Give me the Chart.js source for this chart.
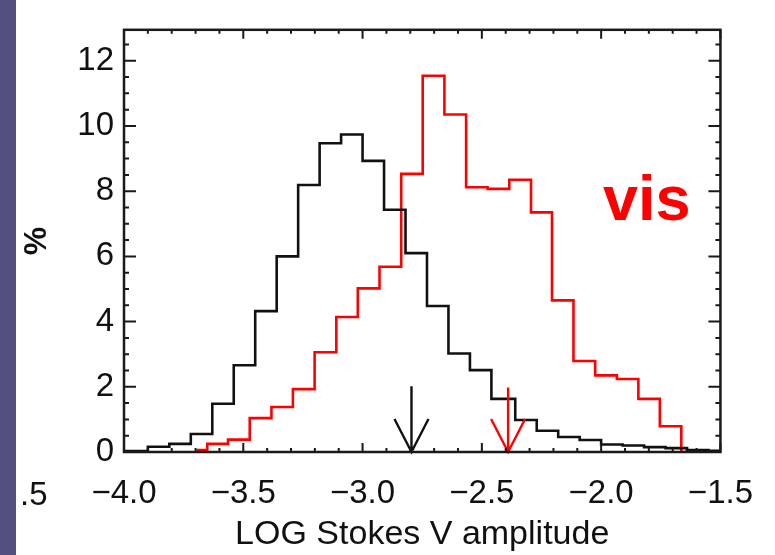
<!DOCTYPE html>
<html><head><meta charset="utf-8">
<script src="https://cdn.jsdelivr.net/npm/chart.js@4/dist/chart.umd.min.js"></script>
<style>html,body{margin:0;padding:0;background:#fff;}#wrap{width:775px;height:555px;position:relative;}</style>
</head><body><div id="wrap"><canvas id="c" width="775" height="555"></canvas></div>
<script>
// Black histogram: bin edges (LOG Stokes V amplitude) and percentages per bin
const blackEdges = [-4.00,-3.90,-3.81,-3.72,-3.63,-3.54,-3.45,-3.36,-3.27,-3.18,-3.09,-3.00,-2.91,-2.82,-2.73,-2.64,-2.55,-2.46,-2.36,-2.27,-2.18,-2.09,-2.00,-1.91,-1.82,-1.73,-1.64,-1.55,-1.50];
const blackPct   = [0.03,0.16,0.25,0.55,1.48,2.66,4.32,6.00,8.19,9.47,9.74,8.93,7.43,6.10,4.48,3.02,2.51,1.63,0.98,0.65,0.46,0.37,0.23,0.20,0.15,0.12,0.06,0.04];
// Red ("vis") histogram
const redEdges = [-3.696,-3.651,-3.564,-3.473,-3.382,-3.292,-3.201,-3.110,-3.020,-2.929,-2.838,-2.748,-2.657,-2.566,-2.476,-2.385,-2.294,-2.206,-2.116,-2.025,-1.934,-1.844,-1.754,-1.664,-1.506];
const redPct   = [0.06,0.25,0.38,1.04,1.38,1.93,3.06,4.14,5.02,5.68,8.53,11.54,10.35,8.12,8.07,8.35,7.35,4.65,2.79,2.35,2.24,1.63,0.79,0.00];
// Arrows marking the characteristic values
const arrowX     = [-2.795, -2.390];
const arrowTop   = [2.02, 1.98];
const arrowColor = ['#111111', '#ff0000'];
// Axis ranges / tick labels
const xTickLabels = [-4.0,-3.5,-3.0,-2.5,-2.0,-1.5];
const yTickLabels = [0,2,4,6,8,10,12];
const seriesLabel = 'vis';

function toSteps(edges, pct){
  return edges.map((x,i)=>({x:x, y:pct[Math.min(i,pct.length-1)]}));
}
function fmtX(v){ return (v<0?'\u2212':'') + Math.abs(v).toFixed(1); }

const FONT = "'Liberation Sans', Arial, Helvetica, sans-serif";

const framePlugin = {
  id:'frame',
  beforeDraw(chart){
    const ctx = chart.ctx;
    ctx.save();
    ctx.fillStyle = '#ffffff';
    ctx.fillRect(0,0,chart.width,chart.height);
    ctx.fillStyle = '#52507d';
    ctx.fillRect(0,0,16,chart.height);
    ctx.restore();
  },
  afterDatasetsDraw(chart){
    const ctx = chart.ctx, a = chart.chartArea;
    const xs = chart.scales.x, ys = chart.scales.y;
    ctx.save();
    // arrows
    arrowX.forEach((ax,i)=>{
      const px = xs.getPixelForValue(ax);
      const pt = ys.getPixelForValue(arrowTop[i]);
      const pb = ys.getPixelForValue(0);
      ctx.strokeStyle = arrowColor[i];
      ctx.lineWidth = 2.4;
      ctx.beginPath();
      ctx.moveTo(px, pt); ctx.lineTo(px, pb);
      ctx.moveTo(px-17, pb-33); ctx.lineTo(px, pb); ctx.lineTo(px+17, pb-33);
      ctx.stroke();
    });
    // frame
    ctx.strokeStyle = '#1a1a1a';
    ctx.lineWidth = 2.5;
    ctx.strokeRect(a.left, a.top, a.right-a.left, a.bottom-a.top);
    ctx.lineWidth = 2;
    ctx.beginPath();
    // y ticks (major every 2, minor every 0.5)
    for (let k=0; k<=26; k++){
      const v = k*0.5;
      if (v > ys.max) break;
      const py = ys.getPixelForValue(v);
      const len = (k%4===0) ? 12 : 5;
      ctx.moveTo(a.left, py); ctx.lineTo(a.left+len, py);
      ctx.moveTo(a.right, py); ctx.lineTo(a.right-len, py);
    }
    // x ticks (major every 0.5, minor every 0.1)
    for (let k=0; k<=25; k++){
      const v = -4 + k*0.1;
      const px = xs.getPixelForValue(v);
      const len = (k%5===0) ? 9 : 4;
      ctx.moveTo(px, a.bottom); ctx.lineTo(px, a.bottom-len);
      ctx.moveTo(px, a.top); ctx.lineTo(px, a.top+len);
    }
    ctx.stroke();
    ctx.restore();
  },
  afterDraw(chart){
    const ctx = chart.ctx, a = chart.chartArea;
    ctx.save();
    // clipped neighbour label at far left
    ctx.fillStyle = '#111';
    ctx.font = "33px " + FONT;
    ctx.textAlign = 'left';
    ctx.textBaseline = 'alphabetic';
    ctx.fillText('.5', 20, 505);
    // series label
    ctx.fillStyle = '#ff0000';
    ctx.font = "bold 63px " + FONT;
    ctx.fillText(seriesLabel, a.left + 479, 220);
    ctx.restore();
  }
};

new Chart(document.getElementById('c'), {
  type: 'line',
  data: {
    datasets: [
      { label:'all', data: toSteps(blackEdges, blackPct), borderColor:'#111111', borderWidth:2.6,
        stepped:'before', pointRadius:0, fill:false },
      { label: seriesLabel, data: toSteps(redEdges, redPct), borderColor:'#ff0000', borderWidth:2.6,
        stepped:'before', pointRadius:0, fill:false }
    ]
  },
  options: {
    responsive:false, animation:false, devicePixelRatio:1,
    layout:{ padding:{ top:12, right:53, left:0, bottom:0 } },
    plugins:{ legend:{display:false}, tooltip:{enabled:false} },
    scales:{
      x:{
        type:'linear', min:xTickLabels[0], max:xTickLabels[xTickLabels.length-1],
        grid:{display:false, drawTicks:false}, border:{display:false},
        ticks:{ stepSize:0.5, autoSkip:false, maxRotation:0, minRotation:0, padding:22, color:'#111',
                font:{family:FONT, size:33}, callback:(v)=>fmtX(v) },
        title:{ display:true, text:'LOG Stokes V amplitude', color:'#111',
                font:{family:FONT, size:34}, padding:{top:0, bottom:0} },
        afterFit:(s)=>{ s.height = 103; }
      },
      y:{
        min:0, max:12.95,
        grid:{display:false, drawTicks:false}, border:{display:false},
        ticks:{ stepSize:2, includeBounds:false, padding:10, color:'#111',
                font:{family:FONT, size:33},
                callback:(v)=> yTickLabels.includes(v) ? String(v) : '' },
        title:{ display:true, text:'%', color:'#111', font:{family:FONT, size:32, weight:'bold'}, padding:{top:18, bottom:0} },
        afterFit:(s)=>{ s.width = 124; }
      }
    }
  },
  plugins:[framePlugin]
});
</script>
</body></html>
